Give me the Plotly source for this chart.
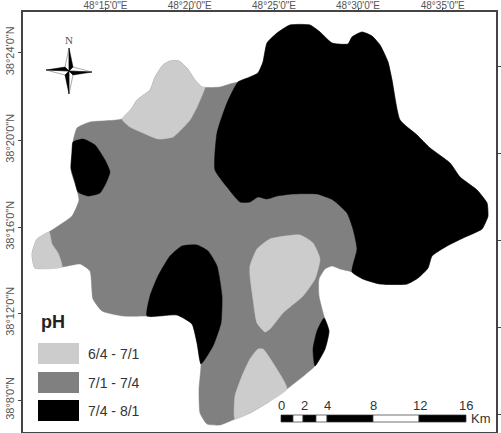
import plotly.graph_objects as go

# Map vertices in digitised map-grid units
outline_x = [122,132,137,150,155,163,170,179,187,195,202,220,230,238,250,258,263,267,277,290,310,320,332,348,352,362,372,380,388,392,400,417,430,450,460,477,487,488,487,482,463,447,432,428,418,407,380,363,352,340,332,325,319,319,324,329,325,315,287,267,250,235,220,207,200,199,201,197,192,177,147,123,102,93,90,80,62,35,32,37,49,72,79,77,71,73,77,90]
outline_y = [119,108,100,90,77,65,61,61,68,80,87,87,84,82,77,73,62,43,33,25,25,32,43,44,37,32,36,45,62,80,120,135,148,163,177,190,203,216,219,229,238,246,256,268,278,284,284,279,272,269,266,269,279,296,316,331,349,366,389,403,413,419,425,424,413,389,364,343,324,315,316,316,311,299,271,264,267,268,254,239,232,216,200,190,170,142,128,122]

light_top_x = [122,132,137,150,155,163,170,179,187,195,202,205,197,190,173,158,143,130]
light_top_y = [119,108,100,90,77,65,61,61,68,80,87,87,107,120,137,139,133,127]

light_left_x = [49,52,58,62,35,32,37]
light_left_y = [232,244,253,267,268,254,239]

light_mid_x = [250,257,270,300,313,320,315,303,283,270,265,257,253,250]
light_mid_y = [266,249,239,235,243,259,279,296,313,329,332,323,299,276]

light_low_x = [258,263,273,287,267,250,235,235,242,250]
light_low_y = [349,349,363,389,403,413,419,396,376,359]

black_right_x = [238,250,258,263,267,277,290,310,320,332,348,352,362,372,380,388,392,400,417,430,450,460,477,487,488,487,482,463,447,432,428,418,407,380,363,352,357,353,347,333,317,293,277,267,258,250,240,227,215,217,227]
black_right_y = [82,77,73,62,43,33,25,25,32,43,44,37,32,36,45,62,80,120,135,148,163,177,190,203,216,219,229,238,246,256,268,278,284,284,279,272,249,229,213,200,194,194,196,199,197,202,202,187,170,133,103]

black_left_x = [73,83,95,105,110,106,100,88,78,75,71,72]
black_left_y = [142,139,145,160,172,183,193,196,192,182,168,153]

black_mid_x = [147,150,158,170,182,197,208,217,222,221,213,201,197,192,177]
black_mid_y = [316,296,276,256,246,245,251,266,296,323,346,364,343,324,315]

black_small_x = [324,329,325,315,313,317]
black_small_y = [318,331,349,366,349,331]

top_tick_vals = [105.5,189.7,274,358,442.7]
top_tick_text = ["48°15'0\"E","48°20'0\"E","48°25'0\"E","48°30'0\"E","48°35'0\"E"]
left_tick_vals = [52.5,140,227,313,400]
left_tick_text = ["38°24'0\"N","38°20'0\"N","38°16'0\"N","38°12'0\"N","38°8'0\"N"]
right_tick_vals = [66,153,240,327,414]

legend_title = "pH"
legend_labels = ["6/4 - 7/1","7/1 - 7/4","7/4 - 8/1"]
legend_colors = ["#cccccc","#808080","#000000"]
legend_top = [343,372,400]
legend_bottom = [364,393,421]

scale_labels = ["0","2","4","8","12","16"]
scale_label_x = [281,304,327,373,420,466]
scale_edges = [281,293,303,316,327,373,419,466]
scale_colors = ["black","white","black","white","black","white","black"]

needle_black = [
    ([69,69,73],[71,48,67]), ([69,69,65],[71,94,75]),
    ([69,46,65],[71,70,67]), ([69,92,73],[71,72,75]),
]
needle_white = [
    ([69,69,65],[71,48,67]), ([69,69,73],[71,94,75]),
    ([69,46,65],[71,70,75]), ([69,92,73],[71,72,67]),
]

fig = go.Figure()

def region(xs, ys, color, smooth=True):
    fig.add_trace(go.Scatter(
        x=xs + xs[:1], y=ys + ys[:1], mode="lines", fill="toself", fillcolor=color,
        line=dict(color=color, width=0.5, shape="spline" if smooth else "linear", smoothing=0.5),
        hoverinfo="skip", showlegend=False))

region(outline_x, outline_y, "#808080")
for xs, ys in [(light_top_x, light_top_y), (light_left_x, light_left_y),
               (light_mid_x, light_mid_y), (light_low_x, light_low_y)]:
    region(xs, ys, "#cccccc")
for xs, ys in [(black_right_x, black_right_y), (black_left_x, black_left_y),
               (black_mid_x, black_mid_y), (black_small_x, black_small_y)]:
    region(xs, ys, "#000000")
for xs, ys in needle_white:
    fig.add_trace(go.Scatter(x=xs+xs[:1], y=ys+ys[:1], mode="lines", fill="toself", fillcolor="white",
                             line=dict(color="#555555", width=0.5), hoverinfo="skip", showlegend=False))
for xs, ys in needle_black:
    region(xs, ys, "#000000", smooth=False)

# carrier for the right-hand tick axis
fig.add_trace(go.Scatter(x=[None], y=[None], yaxis="y2", showlegend=False))

shapes = []
for color, y0, y1 in zip(legend_colors, legend_top, legend_bottom):
    shapes.append(dict(type="rect", xref="x", yref="y", x0=38, x1=79, y0=y0, y1=y1,
                       fillcolor=color, line=dict(width=0)))
for i, color in enumerate(scale_colors):
    shapes.append(dict(type="rect", xref="x", yref="y", x0=scale_edges[i], x1=scale_edges[i+1],
                       y0=415, y1=422, fillcolor=color, line=dict(color="#333333", width=0.7)))

ann = []
TXT = "#333333"
FONT = "Liberation Sans"
ann.append(dict(x=39, y=322, text=legend_title, showarrow=False, xanchor="left", yanchor="middle",
                font=dict(family=FONT, size=18, color="#222222", weight="bold")))
for label, y0, y1 in zip(legend_labels, legend_top, legend_bottom):
    ann.append(dict(x=85.5, y=(y0+y1)/2, text=label, showarrow=False, xanchor="left", yanchor="middle",
                    font=dict(family=FONT, size=14, color=TXT)))
for label, x in zip(scale_labels, scale_label_x):
    ann.append(dict(x=x, y=405, text=label, showarrow=False, xanchor="center", yanchor="middle",
                    font=dict(family=FONT, size=13, color=TXT)))
ann.append(dict(x=469, y=418, text="Km", showarrow=False, xanchor="left", yanchor="middle",
                font=dict(family=FONT, size=13, color=TXT)))
ann.append(dict(x=69, y=40, text="N", showarrow=False, xanchor="center", yanchor="middle",
                font=dict(family="Liberation Serif", size=11, color="#555555")))
for a in ann:
    a.update(xref="x", yref="y")

axis_line = dict(showline=True, linecolor="#444444", linewidth=1.5, showgrid=False, zeroline=False,
                 ticks="outside", tickcolor="#444444", tickwidth=1, automargin=False,
                 tickfont=dict(family=FONT, size=11, color="#555555"))
top_axis_line = dict(axis_line, tickfont=dict(family=FONT, size=10, color="#555555"))

fig.update_layout(
    width=501, height=433, autosize=False,
    margin=dict(l=23, r=5, t=12, b=1, pad=0),
    paper_bgcolor="white", plot_bgcolor="white", showlegend=False,
    shapes=shapes, annotations=ann,
    xaxis=dict(range=[23,496], side="top", tickmode="array", tickvals=top_tick_vals, ticktext=top_tick_text,
               ticklen=2, mirror=True, tickangle=0, ticklabelstandoff=-5, **top_axis_line),
    yaxis=dict(range=[432,12], side="left", tickmode="array", tickvals=left_tick_vals, ticktext=left_tick_text,
               ticklen=3, mirror=True, tickangle=-90, **axis_line),
    yaxis2=dict(range=[432,12], overlaying="y", side="right", tickmode="array", tickvals=right_tick_vals,
                ticklen=5, showticklabels=False, showline=False, showgrid=False, zeroline=False,
                ticks="outside", tickcolor="#444444", tickwidth=1, automargin=False),
)
fig.write_html("out.html", config={"displayModeBar": False}, post_script="document.body.style.margin='0';")
